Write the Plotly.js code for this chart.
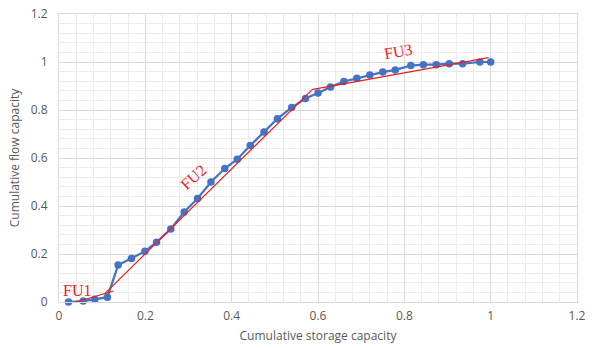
<!DOCTYPE html>
<html>
<head>
<meta charset="utf-8">
<script src="https://cdn.plot.ly/plotly-3.0.1.min.js"></script>
<style>html,body{margin:0;padding:0;background:#fff;}#chart{width:592px;height:348px;}</style>
</head>
<body>
<div id="chart"></div>
<script>
// Cumulative storage capacity (x) and cumulative flow capacity (y)
const storage = [0.022, 0.056, 0.083, 0.112, 0.137, 0.168, 0.199, 0.226, 0.259, 0.290,
                 0.321, 0.352, 0.384, 0.413, 0.443, 0.475, 0.506, 0.539, 0.571, 0.600,
                 0.629, 0.660, 0.690, 0.720, 0.750, 0.779, 0.815, 0.844, 0.874, 0.904,
                 0.935, 0.975, 1.000];
const flow = [0.000, 0.004, 0.011, 0.020, 0.154, 0.181, 0.211, 0.249, 0.304, 0.375,
              0.431, 0.500, 0.556, 0.595, 0.652, 0.708, 0.764, 0.810, 0.848, 0.871,
              0.896, 0.919, 0.932, 0.946, 0.958, 0.967, 0.985, 0.989, 0.989, 0.993,
              0.993, 1.000, 1.000];
// Flow-unit fitted segments
const fu1X = [0.014, 0.126], fu1Y = [-0.014, 0.046];
const fu2X = [0.106, 0.585], fu2Y = [0.035, 0.882];
const fu3X = [0.585, 0.995], fu3Y = [0.885, 1.018];
const unitLabels = ["FU1", "FU2", "FU3"];
const xTitle = "Cumulative storage capacity";
const yTitle = "Cumulative flow capacity";

const red = "#f01c1c";
const blue = "#4472c4";

const traces = [
  {x: storage, y: flow, mode: "lines+markers", type: "scatter",
   line: {color: blue, width: 2.2}, marker: {color: blue, size: 7.5}, cliponaxis: false},
  {x: fu1X, y: fu1Y, mode: "lines", line: {color: red, width: 1.2}, cliponaxis: false},
  {x: fu2X, y: fu2Y, mode: "lines", line: {color: red, width: 1.2}, cliponaxis: false},
  {x: fu3X, y: fu3Y, mode: "lines", line: {color: red, width: 1.2}, cliponaxis: false}
];

const sans = "Open Sans, Liberation Sans, sans-serif";
const tickFont = {family: sans, size: 12, color: "#595959"};
const axisCommon = {
  range: [0, 1.2], dtick: 0.2, tick0: 0, showgrid: true, gridcolor: "#d9d9d9", gridwidth: 1,
  zeroline: false, showline: true, linecolor: "#d9d9d9", mirror: true,
  ticks: "", tickfont: tickFont, fixedrange: true,
  minor: {dtick: 0.04, showgrid: true, gridcolor: "#ebebeb", gridwidth: 1}
};

const labFont = {family: "Liberation Serif, Times New Roman, serif", size: 16, color: red};
const layout = {
  width: 592, height: 348,
  margin: {l: 59, r: 15, t: 14, b: 46},
  paper_bgcolor: "#ffffff", plot_bgcolor: "#ffffff",
  showlegend: false,
  xaxis: Object.assign({}, axisCommon, {
    ticklabelstandoff: 3,
    title: {text: xTitle, font: {family: sans, size: 12, color: "#595959"}, standoff: 8}
  }),
  yaxis: Object.assign({}, axisCommon, {
    ticklabelstandoff: 8,
    title: {text: yTitle, font: {family: sans, size: 12, color: "#595959"}, standoff: 8}
  }),
  annotations: [
    {x: 0.042, y: 0.05, text: unitLabels[0], showarrow: false, font: labFont, textangle: 0},
    {x: 0.31, y: 0.52, text: unitLabels[1], showarrow: false, font: labFont, textangle: -42},
    {x: 0.785, y: 1.045, text: unitLabels[2], showarrow: false, font: labFont, textangle: -10}
  ]
};

Plotly.newPlot("chart", traces, layout, {displayModeBar: false, staticPlot: true});
</script>
</body>
</html>
